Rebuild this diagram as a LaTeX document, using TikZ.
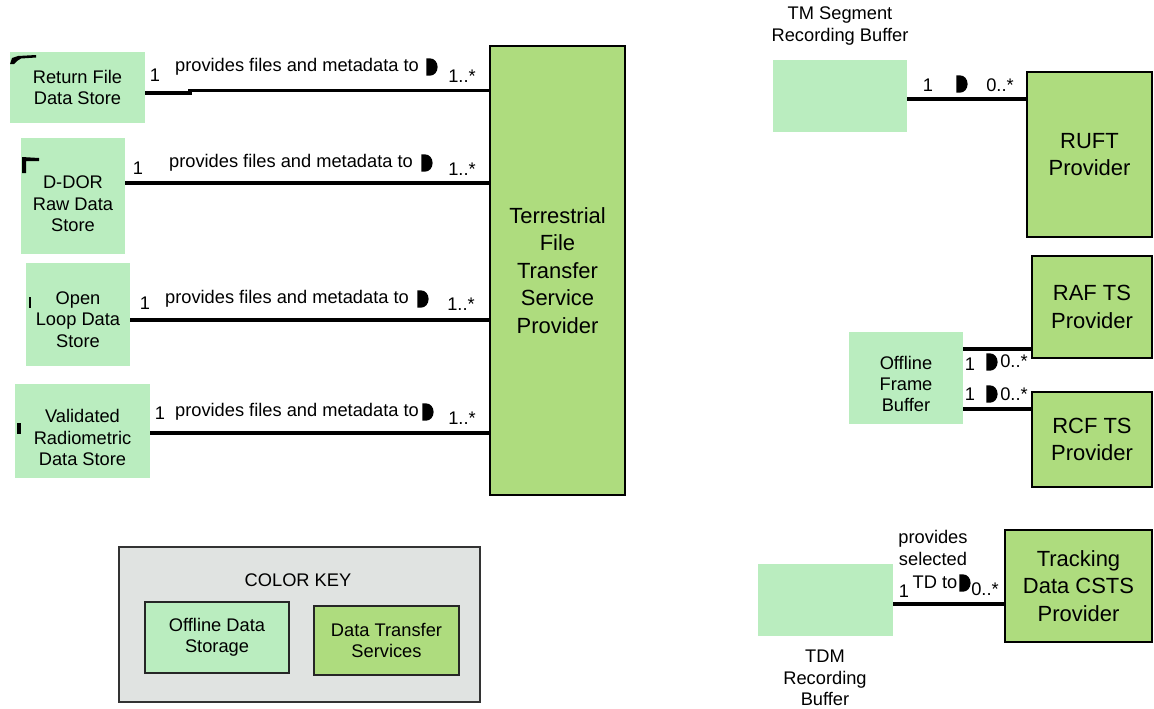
\documentclass[tikz,border=0pt]{standalone}
\usepackage{fontspec}
\setmainfont{Liberation Sans}
\usepackage{tikz}
\usepackage{xcolor}

\definecolor{storegreen}{RGB}{186,237,191}
\definecolor{servgreen}{RGB}{174,220,126}
\definecolor{keygray}{RGB}{224,227,225}

\begin{document}
\begin{tikzpicture}[x=0.02cm, y=-0.02cm,
    every node/.style={font=\fontsize{10.4}{12.2}\selectfont, inner sep=0},
    store/.style={fill=storegreen, align=center},
    service/.style={draw, line width=1.6pt, fill=servgreen, align=center,
    font=\fontsize{12.5}{15.6}\selectfont},
    assoc/.style={line width=1.9pt},
    readdir/.pic={\fill (-3.2pt,-4.9pt) -- (-3.2pt,4.9pt) -- (-1pt,4.9pt)
    arc[start angle=90, end angle=-90, x radius=4.2pt, y radius=4.9pt] -- cycle;}]

    \useasboundingbox (0,0) rectangle (1154,708);

    % Offline data stores
    \node[store, minimum width=2.7cm, minimum height=1.42cm] (ret) at (77.5, 87.5)
    {Return File\\Data Store};
    \node[store, minimum width=2.08cm, minimum height=2.32cm] (ddor) at (73, 196) {};
    \node[align=center] (ddortext) at (73, 204) {D-DOR\\Raw Data\\Store};
    \node[store, minimum width=2.08cm, minimum height=2.06cm] (open) at (78, 314.5) {};
    \node[align=center] (opentext) at (78, 319.5) {Open\\Loop Data\\Store};
    \node[store, minimum width=2.7cm, minimum height=1.88cm] (valid) at (82.5, 431) {};
    \node[align=center] (validtext) at (82.5, 437.5) {Validated\\Radiometric\\Data Store};

    % stray marks
    \fill (10,64) -- (12,58) -- (18,56) -- (36,55) -- (36,57.5) -- (21,58.5) -- (17,61) -- (14,64) -- cycle;
    \fill (22,157) -- (39,158) -- (39,161) -- (26,161) -- (26,173) -- (22,173) -- cycle;
    \fill (29,297) rectangle (30.5,308);
    \fill (17,423) rectangle (21,434);

    % Terrestrial provider
    \node[service, minimum width=2.7cm, minimum height=8.98cm] (tftsp) at (557.5, 270.5)
    {Terrestrial\\File\\Transfer\\Service\\Provider};

    % Lines
    \draw[assoc] (ret.east |- 0,93) -- (190,93) -- (190,90.5) -- (tftsp.west |- 0,90.5);
    \draw[assoc] (ddor.east |- 0,183) -- (tftsp.west |- 0,183);
    \draw[assoc] (open.east |- 0,320) -- (tftsp.west |- 0,320);
    \draw[assoc] (valid.east |- 0,433) -- (tftsp.west |- 0,433);

    % Line labels
    \node (ret1) at (155, 75) {1};
    \node (rettxt) at (297, 67) {provides files and metadata to};
    \pic at (432, 67) {readdir};
    \node (retn) at (462, 76) {1..*};

    \node (ddor1) at (138, 168) {1};
    \node (ddortxt) at (291, 163) {provides files and metadata to};
    \pic at (427, 163) {readdir};
    \node (ddorn) at (462, 169) {1..*};

    \node (open1) at (145, 303) {1};
    \node (opentxt) at (287, 299) {provides files and metadata to};
    \pic at (423, 299) {readdir};
    \node (openn) at (461, 304) {1..*};

    \node (valid1) at (160, 413) {1};
    \node (validtxt) at (297, 412) {provides files and metadata to};
    \pic at (428, 412) {readdir};
    \node (validn) at (462, 418) {1..*};

    % Color key
    \node[draw=black!80, line width=0.8pt, fill=keygray, minimum width=7.22cm,
    minimum height=3.1cm] (key) at (299.5, 624.5) {};
    \node (keytitle) at (298, 580) {COLOR KEY};
    \node[store, draw=black!85, line width=0.8pt, minimum width=2.88cm,
    minimum height=1.42cm] (keystore) at (217, 637.5) {Offline Data\\Storage};
    \node[store, fill=servgreen, draw=black!85, line width=0.8pt, minimum width=2.9cm,
    minimum height=1.38cm] (keyserv) at (386.5, 640.5) {Data Transfer\\Services};

    % Buffers
    \node (tmlabel) at (840, 26) [align=center] {TM Segment\\Recording Buffer};
    \node[store, minimum width=2.68cm, minimum height=1.44cm] (tmbuf) at (840, 96) {};
    \node[store, minimum width=2.28cm, minimum height=1.84cm] (ofb) at (906, 378) {};
    \node[align=center] (ofbtext) at (906, 384) {Offline\\Frame\\Buffer};
    \node[store, minimum width=2.7cm, minimum height=1.44cm] (tdmbuf) at (825.5, 600) {};
    \node (tdmlabel) at (825, 678) [align=center] {TDM\\Recording\\Buffer};

    % Providers
    \node[service, minimum width=2.5cm, minimum height=3.3cm] (ruft) at (1089.5, 154.5)
    {RUFT\\Provider};
    \node[service, minimum width=2.4cm, minimum height=2.04cm] (raf) at (1092, 307)
    {RAF TS\\Provider};
    \node[service, minimum width=2.4cm, minimum height=1.9cm] (rcf) at (1092, 439.5)
    {RCF TS\\Provider};
    \node[service, minimum width=2.94cm, minimum height=2.24cm] (tdcsts) at (1078.5, 586)
    {Tracking\\Data CSTS\\Provider};

    % Lines
    \draw[assoc] (tmbuf.east |- 0,99) -- (ruft.west |- 0,99);
    \draw[assoc] (ofb.east |- 0,349) -- (raf.west |- 0,349);
    \draw[assoc] (ofb.east |- 0,409) -- (rcf.west |- 0,409);
    \draw[assoc] (tdmbuf.east |- 0,604) -- (tdcsts.west |- 0,604);

    % Line labels
    \node (tm1) at (928, 85) {1};
    \pic at (962, 84) {readdir};
    \node (tmn) at (1000, 85) {0..*};

    \node (raf1) at (970, 364) {1};
    \pic at (992, 362) {readdir};
    \node (rafn) at (1014, 361) {0..*};

    \node (rcf1) at (970, 394) {1};
    \pic at (992, 394) {readdir};
    \node (rcfn) at (1014, 394) {0..*};

    \node (tdtxt) at (933, 548) [align=center] {provides\\selected};
    \node (td1) at (904, 591) {1};
    \node (tdto) at (935, 582) {TD to};
    \pic at (965, 583) {readdir};
    \node (tdn) at (985, 589) {0..*};

\end{tikzpicture}
\end{document}
